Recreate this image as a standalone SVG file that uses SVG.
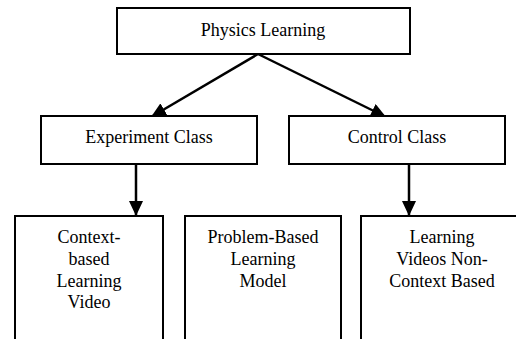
<svg xmlns="http://www.w3.org/2000/svg" width="516" height="339" viewBox="0 0 516 339">
<style>
.box{fill:#fff;stroke:#000;stroke-width:2}
.lbl{font-family:"Liberation Serif","Times New Roman",serif;font-size:18px;fill:#000;text-anchor:middle}
.edge{stroke:#000;stroke-width:2.5;fill:none}
</style>
<defs>
<marker id="ah" markerUnits="userSpaceOnUse" viewBox="0 0 15 14" refX="15" refY="7" markerWidth="15" markerHeight="14" orient="auto">
<path d="M0,0 L15,7 L0,14 z" fill="#000"/>
</marker>
</defs>
<rect width="516" height="339" fill="#fff"/>
<g id="connectors">
<line class="edge" x1="258" y1="54" x2="151" y2="117" marker-end="url(#ah)"/>
<line class="edge" x1="258" y1="54" x2="386" y2="117" marker-end="url(#ah)"/>
<line class="edge" x1="136" y1="164" x2="136" y2="216" marker-end="url(#ah)"/>
<line class="edge" x1="409" y1="164" x2="409" y2="216" marker-end="url(#ah)"/>
</g>
<g id="physics">
<rect class="box" x="117" y="8" width="293" height="46"/>
<text class="lbl" x="263" y="36">Physics Learning</text>
</g>
<g id="experiment">
<rect class="box" x="41" y="116" width="216" height="48"/>
<text class="lbl" x="149" y="143">Experiment Class</text>
</g>
<g id="control">
<rect class="box" x="289" y="116" width="216" height="48"/>
<text class="lbl" x="397" y="143">Control Class</text>
</g>
<g id="context-video">
<rect class="box" x="15" y="216" width="148" height="140"/>
<text class="lbl" x="89" y="243">Context-</text>
<text class="lbl" x="89" y="265">based</text>
<text class="lbl" x="89" y="287">Learning</text>
<text class="lbl" x="89" y="308">Video</text>
</g>
<g id="pbl">
<rect class="box" x="185" y="216" width="156" height="140"/>
<text class="lbl" x="263" y="243">Problem-Based</text>
<text class="lbl" x="263" y="265">Learning</text>
<text class="lbl" x="263" y="287">Model</text>
</g>
<g id="noncontext-video">
<rect class="box" x="361" y="216" width="162" height="140"/>
<text class="lbl" x="442" y="243">Learning</text>
<text class="lbl" x="442" y="265">Videos Non-</text>
<text class="lbl" x="442" y="287">Context Based</text>
</g>
</svg>
